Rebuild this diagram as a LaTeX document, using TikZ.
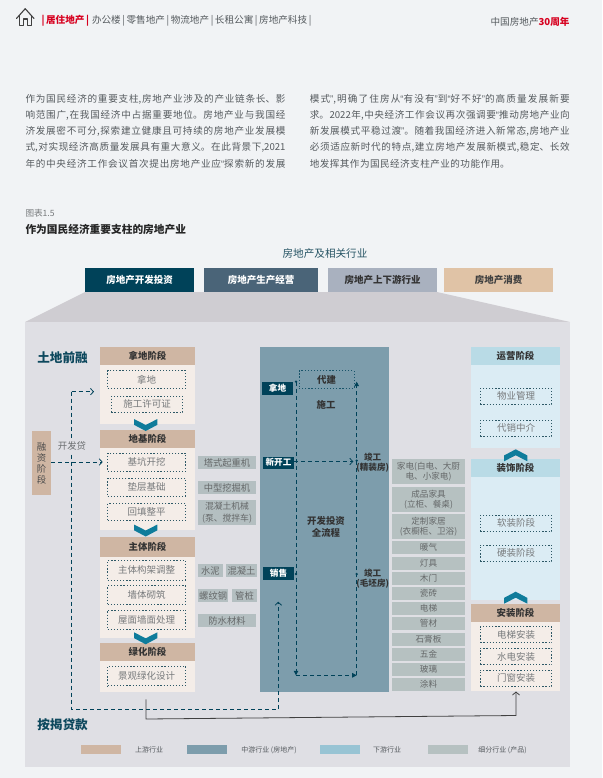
\documentclass[tikz,border=0pt]{standalone}
\usepackage{fontspec}
\setmainfont{Noto Sans CJK SC}
\newfontfamily\qf{Liberation Sans}
\usetikzlibrary{arrows.meta}
\XeTeXlinebreaklocale "zh"
\XeTeXlinebreakskip=0pt plus 3pt
\definecolor{bgc}{HTML}{F1F3F5}
\definecolor{panelc}{HTML}{DFDFE4}
\definecolor{trapc}{HTML}{CFCDD2}
\definecolor{tanh}{HTML}{CFB6A3}
\definecolor{tanb}{HTML}{F4EDE8}
\definecolor{blueh}{HTML}{B9DBE6}
\definecolor{blueb}{HTML}{DBECF4}
\definecolor{midc}{HTML}{7D9DAC}
\definecolor{deep}{HTML}{004259}
\definecolor{chev}{HTML}{0F7C9B}
\definecolor{tagc}{HTML}{B4BFC1}
\definecolor{listc}{HTML}{B6C1C1}
\definecolor{txt}{HTML}{555A5E}
\definecolor{graytxt}{HTML}{777A7C}
\definecolor{redc}{HTML}{D7001F}
\definecolor{HdrB}{HTML}{4A6478}
\definecolor{HdrC}{HTML}{A9B1BF}
\definecolor{HdrD}{HTML}{E0C3A6}
\definecolor{HdrE}{HTML}{98C4D4}
\newcommand\ql{{\qf “}}
\newcommand\qr{{\qf ”}}
\newcommand\jl[2][260pt]{\parbox{#1}{\parindent=0pt\parfillskip=0pt\relax #2}}
\newcommand\bx[7][]{\node[base,#1,minimum width={(#5-#3)*1pt},minimum height={(#6-#4)*1pt}] (#2) at ({(#3+#5)/2},{(#4+#6)/2}) {#7};}
\newcommand\chevd[2]{\fill[chev] ({#1-11.7},#2) -- (#1,{#2+6}) -- ({#1+11.7},#2) -- ({#1+11.7},{#2+5.8}) -- (#1,{#2+12}) -- ({#1-11.7},{#2+5.8}) -- cycle;}
\newcommand\chevu[2]{\fill[chev] ({#1-11.7},{#2+12}) -- (#1,{#2+6}) -- ({#1+11.7},{#2+12}) -- ({#1+11.7},{#2+6.2}) -- (#1,#2) -- ({#1-11.7},{#2+6.2}) -- cycle;}
\tikzset{
  base/.style={inner sep=0pt,outer sep=0pt,align=center},
  bodyline/.style={inner sep=0pt,outer sep=0pt,anchor=west,text=txt,font=\fontsize{9.6}{11}\selectfont},
  tanhead/.style={fill=tanh,font=\fontsize{9.4}{11}\selectfont\bfseries,text=black!80},
  bluehead/.style={fill=blueh,font=\fontsize{9.4}{11}\selectfont\bfseries,text=black!80},
  dbox/.style={draw=deep!65!gray,line width=.6pt,dash pattern=on 1.2pt off 1.9pt,text=graytxt,font=\fontsize{9.5}{11}\selectfont},
  tagbox/.style={fill=tagc,text=graytxt!85!black,font=\fontsize{9.3}{11}\selectfont},
  listbox/.style={fill=listc,text=graytxt!85!black,font=\fontsize{8.6}{10.2}\selectfont},
  deeptag/.style={fill=deep,text=white,font=\fontsize{8.6}{10}\selectfont\bfseries},
  midtext/.style={base,text=black!80,font=\fontsize{9.4}{12}\selectfont\bfseries},
  topbox/.style={font=\fontsize{9.5}{11}\selectfont\bfseries},
  legtext/.style={base,text=txt,font=\fontsize{7}{8}\selectfont},
  dashline/.style={draw=deep,line width=.8pt,dash pattern=on 4pt off 3pt},
  barb/.style={-{Straight Barb[length=3pt,width=6.5pt,line width=.8pt]}},
  tri/.style={-{Triangle[length=4.5pt,width=4.5pt]}},
  dot/.style={circle,fill=deep,inner sep=0pt,minimum size=2.6pt},
  bigl/.style={base,text=deep!90!gray,font=\fontsize{12.6}{14}\selectfont\bfseries},
}
\begin{document}
\begin{tikzpicture}[x=1pt,y=-1pt]
\useasboundingbox (0,0) rectangle (602,778);
\fill[bgc] (0,0) rectangle (602,778);
% header
\draw[black!75,line width=1.1pt,line join=round,line cap=round] (16.5,18.5) -- (25.2,8.7) -- (34,18.5);
\draw[black!75,line width=1.1pt,line join=round] (19.3,15.5) -- (19.3,25.6) -- (23.2,25.6) -- (23.2,19) -- (27.4,19) -- (27.4,25.6) -- (31.2,25.6) -- (31.2,15.5);
\node[bodyline,text=redc,font=\fontsize{9.6}{11}\selectfont\bfseries] (navr) at (41.5,20.7) {|\,居住地产\,|};
\node[bodyline,text=txt] (nav) at (92,20.7) {办公楼\,|\,零售地产\,|\,物流地产\,|\,长租公寓\,|\,房地产科技\,|};
\node[bodyline,anchor=east] (brand) at (569.5,22.3) {中国房地产{\color{redc}\bfseries 30周年}};
% paragraph
\node[bodyline] (l1) at (25.5,99.3) {\jl{作为国民经济的重要支柱,房地产业涉及的产业链条长、影}};
\node[bodyline] (l2) at (25.5,115.6) {\jl{响范围广,在我国经济中占据重要地位。房地产业与我国经}};
\node[bodyline] (l3) at (25.5,131.7) {\jl{济发展密不可分,探索建立健康且可持续的房地产业发展模}};
\node[bodyline] (l4) at (25.5,147.7) {\jl{式,对实现经济高质量发展具有重大意义。在此背景下,2021}};
\node[bodyline] (l5) at (25.5,163.7) {\jl{年的中央经济工作会议首次提出房地产业应\ql 探索新的发展}};
\node[bodyline] (r1) at (309.8,99.3) {\jl{模式\qr ,明确了住房从\ql 有没有\qr 到\ql 好不好\qr 的高质量发展新要}};
\node[bodyline] (r2) at (309.8,115.6) {\jl{求。2022年,中央经济工作会议再次强调要\ql 推动房地产业向}};
\node[bodyline] (r3) at (309.8,131.7) {\jl{新发展模式平稳过渡\qr 。随着我国经济进入新常态,房地产业}};
\node[bodyline] (r4) at (309.8,147.7) {\jl{必须适应新时代的特点,建立房地产发展新模式,稳定、长效}};
\node[bodyline] (r5) at (309.8,163.7) {\jl[200pt]{地发挥其作为国民经济支柱产业的功能作用。}};
% figure title
\node[bodyline,text=graytxt,font=\fontsize{8.6}{10}\selectfont] (figno) at (25.5,213.7) {图表1.5};
\node[bodyline,text=black!85,font=\fontsize{10.7}{12}\selectfont\bfseries] (figt) at (25.5,229) {作为国民经济重要支柱的房地产业};
\node[base,text=deep!70!gray,font=\fontsize{10.6}{12}\selectfont] (figh) at (325,254) {房地产及相关行业};
% top boxes
\bx[topbox,fill=deep,text=white]{t1}{85}{268}{194}{291.7}{房地产开发投资}
\bx[topbox,fill=HdrB,text=white]{t2}{204}{268}{318}{291.7}{房地产生产经营}
\bx[topbox,fill=HdrC,text=black!80]{t3}{328}{268}{437}{291.7}{房地产上下游行业}
\bx[topbox,fill=HdrD,text=black!75]{t4}{444}{268}{553}{291.7}{房地产消费}
% panel
\fill[trapc] (85,292) -- (437,292) -- (570,322) -- (25,322) -- cycle;
\fill[panelc] (25,322) rectangle (570,767);
\node[bigl] (tdqr) at (62.5,357.5) {土地前融};
\node[bigl] (ajdk) at (62.5,725) {按揭贷款};
% left stage blocks
\fill[tanb] (100,365) rectangle (195,424);
\fill[tanb] (100,447.7) rectangle (195,530);
\fill[tanb] (100,557) rectangle (195,637.7);
\fill[tanb] (100,661) rectangle (195,692);
\bx[tanhead]{s1}{100}{347}{195}{365}{拿地阶段}
\bx[tanhead]{s2}{100}{430}{195}{447.7}{地基阶段}
\bx[tanhead]{s3}{100}{537}{195}{557}{主体阶段}
\bx[tanhead]{s4}{100}{643}{195}{661}{绿化阶段}
\bx[dbox]{a1}{107.7}{370.7}{185.7}{388.7}{拿地}
\bx[dbox]{a2}{111.3}{396.3}{182.7}{412.3}{施工许可证}
\bx[dbox]{b1}{107.7}{453.3}{185.7}{471.3}{基坑开挖}
\bx[dbox]{b2}{107.7}{478.3}{185.7}{496}{垫层基础}
\bx[dbox]{b3}{107.7}{503.3}{185.7}{520.7}{回填整平}
\bx[dbox]{c1}{107.7}{560.7}{185.7}{580}{主体构架调整}
\bx[dbox]{c2}{107.7}{585.7}{185.7}{604.7}{墙体砌筑}
\bx[dbox]{c3}{107.7}{610}{185.7}{629.3}{屋面墙面处理}
\bx[dbox]{d1}{107.7}{666}{185.7}{685.7}{景观绿化设计}
\chevd{145.7}{419}
\chevd{145.7}{524.5}
\chevd{145.7}{632.3}
% tags
\bx[tagbox]{g1}{198}{456.3}{256}{469}{塔式起重机}
\bx[tagbox]{g2}{198}{481}{256}{494}{中型挖掘机}
\bx[tagbox,font=\fontsize{8.8}{11.6}\selectfont]{g3}{198}{500.3}{256}{525}{混凝土机械\\(泵、搅拌车)}
\bx[tagbox]{g4}{198}{564.3}{222.7}{577}{水泥}
\bx[tagbox]{g5}{226}{564.3}{257}{577}{混凝土}
\bx[tagbox]{g6}{198}{589.3}{228.3}{602}{螺纹钢}
\bx[tagbox]{g7}{232}{589.3}{257}{602}{管桩}
\bx[tagbox]{g8}{198}{614.3}{256}{627}{防水材料}
% financing
\bx[fill=tanh,text=black!70,font=\fontsize{9.4}{11}\selectfont]{fin}{32}{431}{51}{495}{融\\资\\阶\\段}
\coordinate (fupper) at (71.7,391.7);
\coordinate (fbot) at (71.7,709);
\coordinate (fjoin) at (71.7,462);
\coordinate (mbot) at (278.3,709);
\coordinate (saletip) at (278.3,601.7);
\coordinate (atip) at (94,391.7);
\coordinate (btip) at (102.7,462);
\draw[dashline,barb] (fupper) -- (atip);
\draw[dashline] (fupper) -- (fbot) -- (mbot);
% centre panel
\bx[fill=midc]{mid}{260}{347}{389}{692}{}
\draw[dashline,barb] (mbot) -- (saletip);
\draw[dashline,barb] (fin.east |- fjoin) -- (btip);
\node[base,fill=panelc,inner sep=1.5pt,text=graytxt!90!black,font=\fontsize{9.4}{11}\selectfont] (kfd) at (72,445.7) {开发贷};
\bx[deeptag]{m1}{262}{382.3}{293}{395}{拿地}
\bx[deeptag]{m2}{263}{456.7}{294}{468.7}{新开工}
\bx[deeptag]{m3}{263}{567.3}{294}{580}{销售}
\bx[draw=deep!80!midc,line width=.6pt,dash pattern=on 1.2pt off 1.9pt,font=\fontsize{9.4}{11}\selectfont\bfseries,text=black!80]{dj}{299}{370.7}{354}{388.3}{代建}
\node[midtext] (sg) at (326,405) {施工};
\node[midtext] (qlc) at (326,527) {开发投资\\全流程};
\node[midtext,font=\fontsize{8.6}{10}\selectfont\bfseries] (jg1) at (372.7,462.7) {竣工\\(精装房)};
\node[midtext,font=\fontsize{8.6}{10}\selectfont\bfseries] (jg2) at (372.7,578.3) {竣工\\(毛坯房)};
\coordinate (ltop) at (296,381.7);
\coordinate (lbot) at (296,675.3);
\coordinate (rbot) at (356.7,675.3);
\coordinate (rtop) at (356.7,381.7);
\coordinate (kgtip) at (353.3,461.5);
\draw[dashline,tri] (ltop) -- (lbot);
\draw[dashline,tri] (lbot) -- (rbot);
\draw[dashline,tri] (rbot) -- (rtop);
\draw[dashline,barb] (m2.east |- kgtip) -- (kgtip);
\node[dot] (p1) at (ltop) {};
\node[dot] (p2) at (296,574) {};
\node[dot] (p3) at (356.7,460.7) {};
\node[dot] (p4) at (356.7,574) {};
% list
\bx[listbox]{q1}{392}{459}{465}{484}{家电(白电、大厨\\电、小家电)}
\bx[listbox]{q2}{392}{487}{465}{512}{成品家具\\(立柜、餐桌)}
\bx[listbox]{q3}{392}{514}{465}{539}{定制家居\\(衣橱柜、卫浴)}
\bx[listbox]{q4}{392}{541}{465}{554}{暖气}
\bx[listbox]{q5}{392}{557}{465}{570}{灯具}
\bx[listbox]{q6}{392}{572}{465}{585}{木门}
\bx[listbox]{q7}{392}{587}{465}{600}{瓷砖}
\bx[listbox]{q8}{392}{602}{465}{615}{电梯}
\bx[listbox]{q9}{392}{617}{465}{630}{管材}
\bx[listbox]{q10}{392}{633}{465}{646}{石膏板}
\bx[listbox]{q11}{392}{648}{465}{661}{五金}
\bx[listbox]{q12}{392}{663}{465}{676}{玻璃}
\bx[listbox]{q13}{392}{678}{465}{691}{涂料}
% right stage blocks
\fill[blueb] (471,365) rectangle (560,448);
\fill[blueb] (471,477) rectangle (560,600);
\fill[tanb] (471,622) rectangle (560,691);
\bx[bluehead]{x1}{471}{347}{560}{365}{运营阶段}
\bx[bluehead]{x2}{471}{459}{560}{477}{装饰阶段}
\bx[tanhead]{x3}{471}{604}{560}{622}{安装阶段}
\bx[dbox]{y1}{480.3}{388.3}{551.7}{404.3}{物业管理}
\bx[dbox]{y2}{480.3}{420.3}{551.7}{436.3}{代销中介}
\bx[dbox]{y3}{480.3}{515.3}{551.7}{531.3}{软装阶段}
\bx[dbox]{y4}{480.3}{545}{551.7}{561.3}{硬装阶段}
\bx[dbox]{y5}{480.3}{626.7}{551.7}{642.7}{电梯安装}
\bx[dbox]{y6}{480.3}{648.3}{551.7}{664.7}{水电安装}
\bx[dbox]{y7}{480.3}{670}{551.7}{686.3}{门窗安装}
\chevu{515.7}{449.3}
\chevu{515.7}{591.7}
% solid connector
\coordinate (sstart) at (146,699.3);
\coordinate (scorner) at (146,719);
\coordinate (ecorner) at (516,715.5);
\coordinate (etip) at (516,691.5);
\draw[black!75,line width=.8pt,-{Straight Barb[length=3pt,width=7pt,line width=.8pt]},line join=miter] (sstart) -- (scorner) -- (ecorner) -- (etip);
% legend
\bx[fill=tanh]{k1}{81}{745}{121}{754}{}
\bx[fill=midc]{k2}{187}{745}{227}{754}{}
\bx[fill=HdrE]{k3}{320}{745}{360}{754}{}
\bx[fill=listc]{k4}{428}{745}{468}{754}{}
\node[legtext] (kt1) at (149,750) {上游行业};
\node[legtext] (kt2) at (269,750) {中游行业 (房地产)};
\node[legtext] (kt3) at (387,750) {下游行业};
\node[legtext] (kt4) at (502.5,750) {细分行业 (产品)};
\end{tikzpicture}
\end{document}
